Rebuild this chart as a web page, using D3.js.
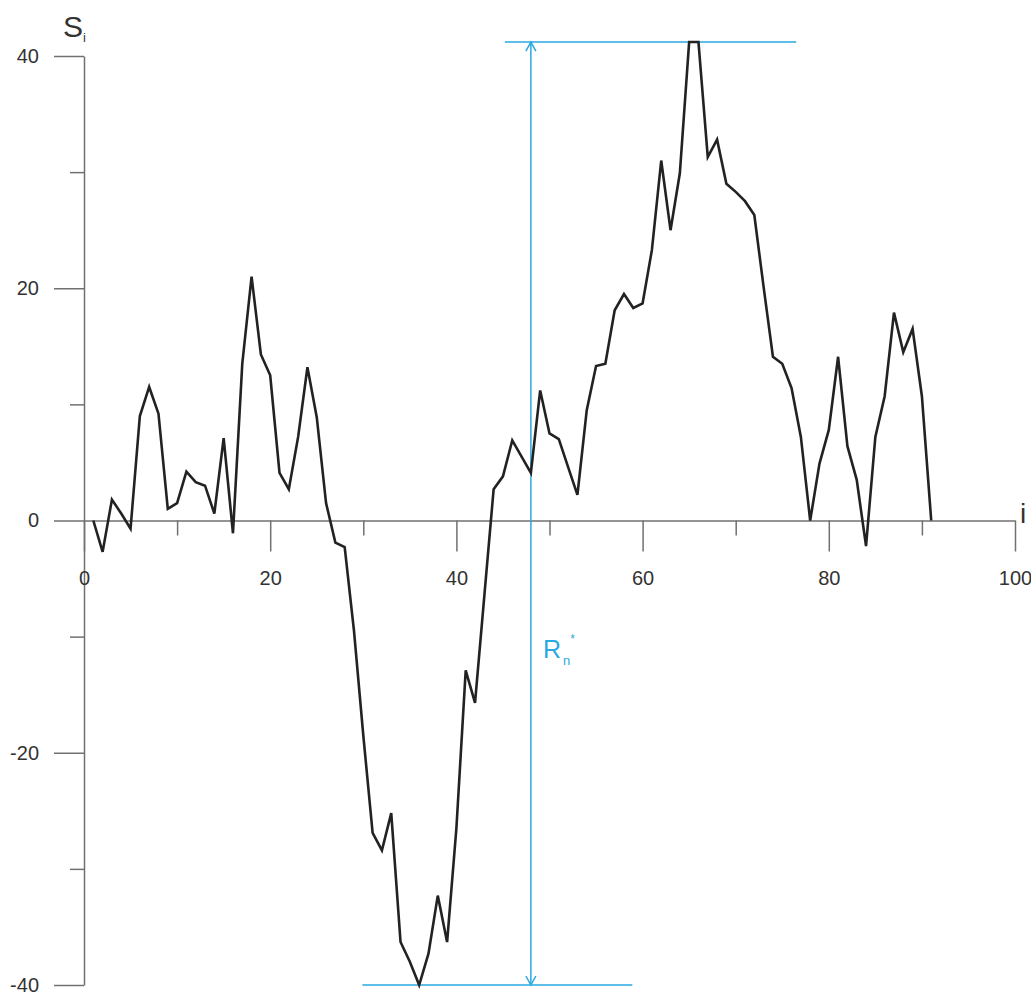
<!DOCTYPE html>
<html>
<head>
<meta charset="utf-8">
<script src="https://cdn.jsdelivr.net/npm/d3@7"></script>
<style>
  html, body { margin: 0; padding: 0; background: #fff; }
  svg { display: block; }
  text { font-family: "Liberation Sans", Arial, Helvetica, sans-serif; }
</style>
</head>
<body>
<svg id="chart" width="1031" height="992"></svg>
<script>
// ---- data ----
const indices = d3.range(1, 92); // i = 1..91
const sValues = [
  0, -2.7, 1.8, 0.6, -0.7, 9.0, 11.5, 9.2, 1.0, 1.5,
  4.2, 3.3, 3.0, 0.6, 7.1, -1.1, 13.5, 21.0, 14.3, 12.5,
  4.1, 2.7, 7.2, 13.2, 8.9, 1.5, -1.9, -2.3, -9.5, -18.5,
  -26.9, -28.4, -25.2, -36.3, -38.0, -40.0, -37.3, -32.3, -36.3, -26.5,
  -12.9, -15.7, -6.5, 2.7, 3.8, 6.9, 5.5, 4.1, 11.2, 7.5,
  7.0, 4.6, 2.2, 9.5, 13.3, 13.5, 18.1, 19.5, 18.3, 18.7,
  23.3, 31.0, 25.0, 29.9, 41.2, 41.2, 31.3, 32.8, 29.0, 28.3,
  27.5, 26.3, 20.1, 14.1, 13.5, 11.4, 7.2, 0, 4.9, 7.8,
  14.1, 6.4, 3.5, -2.2, 7.2, 10.7, 17.9, 14.5, 16.5, 10.7, 0
];
const xMajorTicks = [0, 20, 40, 60, 80, 100];
const xMinorTicks = [10, 30, 50, 70, 90];
const yMajorTicks = [-40, -20, 0, 20, 40];
const yMinorTicks = [-30, -10, 10, 30];
const rangeMarkerI = 48;           // position of the R_n* arrow
const topLineSpan = [45.2, 76.5];  // extent of the max reference line (i units)
const bottomLineSpan = [29.9, 58.9]; // extent of the min reference line (i units)

// ---- scales ----
const svg = d3.select("#chart");
const x = d3.scaleLinear().domain([0, 100]).range([84, 1015]);
const y = d3.scaleLinear().domain([-40, 40]).range([985, 56]);

const axisColor = "#707070";
const textColor = "#333";
const blue = "#2aa8e0";

function styleAxis(g) {
  g.selectAll("path, line").attr("stroke", axisColor).attr("stroke-width", 1.5);
  g.selectAll("text").attr("fill", textColor).attr("font-size", 20)
    .attr("font-family", '"Liberation Sans", Arial, sans-serif');
}

// y axis (major + minor)
const yMajor = svg.append("g").attr("transform", `translate(${x(0)},0)`)
  .call(d3.axisLeft(y).tickValues(yMajorTicks).tickSize(30).tickSizeOuter(0).tickPadding(15).tickFormat(d3.format("d")))
  .call(styleAxis);
yMajor.selectAll("text").text(d => String(d));
svg.append("g").attr("transform", `translate(${x(0)},0)`)
  .call(d3.axisLeft(y).tickValues(yMinorTicks).tickSize(14).tickSizeOuter(0).tickFormat(""))
  .call(g => g.select(".domain").remove())
  .call(styleAxis);

// x axis (major + minor)
svg.append("g").attr("transform", `translate(0,${y(0)})`)
  .call(d3.axisBottom(x).tickValues(xMajorTicks).tickSize(31).tickSizeOuter(0).tickPadding(19))
  .call(styleAxis);
svg.append("g").attr("transform", `translate(0,${y(0)})`)
  .call(d3.axisBottom(x).tickValues(xMinorTicks).tickSize(15).tickSizeOuter(0).tickFormat(""))
  .call(g => g.select(".domain").remove())
  .call(styleAxis);

// axis titles
const sLabel = svg.append("text").attr("x", 63).attr("y", 37)
  .attr("font-size", 30).attr("fill", textColor);
sLabel.append("tspan").text("S");
sLabel.append("tspan").attr("font-size", 13).attr("dy", 5).text("i");

svg.append("text").attr("x", 1020).attr("y", 523)
  .attr("font-size", 28).attr("fill", textColor).text("i");

// ---- range annotation ----
const sMax = d3.max(sValues), sMin = d3.min(sValues);
svg.append("line")
  .attr("x1", x(topLineSpan[0])).attr("x2", x(topLineSpan[1]))
  .attr("y1", y(sMax)).attr("y2", y(sMax))
  .attr("stroke", blue).attr("stroke-width", 1.5);
svg.append("line")
  .attr("x1", x(bottomLineSpan[0])).attr("x2", x(bottomLineSpan[1]))
  .attr("y1", y(sMin)).attr("y2", y(sMin))
  .attr("stroke", blue).attr("stroke-width", 1.5);
svg.append("line")
  .attr("x1", x(rangeMarkerI)).attr("x2", x(rangeMarkerI))
  .attr("y1", y(sMax)).attr("y2", y(sMin))
  .attr("stroke", blue).attr("stroke-width", 1.5);
const ax = x(rangeMarkerI);
svg.append("path")
  .attr("d", `M${ax - 5},${y(sMax) + 9}L${ax},${y(sMax)}L${ax + 5},${y(sMax) + 9}`)
  .attr("fill", "none").attr("stroke", blue).attr("stroke-width", 1.5);
svg.append("path")
  .attr("d", `M${ax - 5},${y(sMin) - 9}L${ax},${y(sMin)}L${ax + 5},${y(sMin) - 9}`)
  .attr("fill", "none").attr("stroke", blue).attr("stroke-width", 1.5);

const rLabel = svg.append("text").attr("x", ax + 12).attr("y", 658)
  .attr("font-size", 25).attr("fill", blue);
rLabel.append("tspan").text("R");
rLabel.append("tspan").attr("font-size", 13).attr("dy", 7).attr("dx", 2).text("n");
rLabel.append("tspan").attr("font-size", 12).attr("dy", -22).attr("dx", 0).text("*");

// ---- data line ----
const line = d3.line().x((d, k) => x(indices[k])).y(d => y(d));
svg.append("path")
  .datum(sValues)
  .attr("d", line)
  .attr("fill", "none")
  .attr("stroke", "#222")
  .attr("stroke-width", 2.6)
  .attr("stroke-linejoin", "miter");
</script>
</body>
</html>
